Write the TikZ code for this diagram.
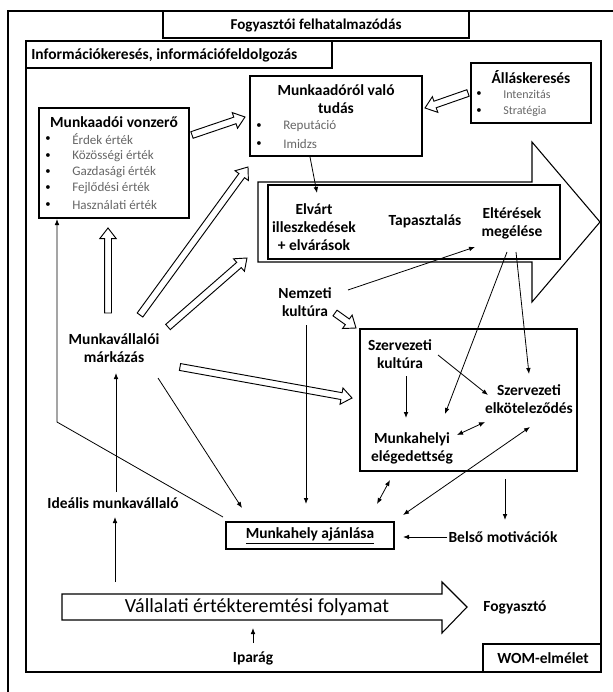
\documentclass[tikz,border=0pt]{standalone}
\usepackage{fontspec}
\setmainfont{Carlito}
\usetikzlibrary{arrows.meta,calc}
\newcommand{\harrow}[3][]{%
  \coordinate (hc) at ($(#3)!8pt!(#2)$);
  \draw[hollow,#1] ($(#2)!2.6pt!90:(#3)$) -- ($(hc)!2.6pt!90:(#3)$) -- ($(hc)!6.2pt!90:(#3)$) -- (#3) -- ($(hc)!6.2pt!-90:(#3)$) -- ($(hc)!2.6pt!-90:(#3)$) -- ($(#2)!2.6pt!-90:(#3)$) -- cycle;}
\begin{document}
\begin{tikzpicture}[x=0.75pt,y=-0.75pt,
  box/.style={draw, line width=0.8pt},
  frame/.style={draw, line width=1pt},
  lbl/.style={font=\bfseries\fontsize{11.6}{13.5}\selectfont, align=center, inner sep=0pt},
  hdr/.style={font=\bfseries\fontsize{11.3}{13}\selectfont, inner sep=0pt},
  itm/.style={font=\fontsize{9.8}{11}\selectfont, text=black!60, anchor=west, inner sep=0pt},
  itms/.style={font=\fontsize{9}{10}\selectfont, text=black!60, anchor=west, inner sep=0pt},
  bul/.style={font=\fontsize{8}{10}\selectfont, inner sep=0pt},
  arr/.style={-{Latex[length=4.5pt,width=3.5pt]}, line width=0.6pt},
  darr/.style={{Latex[length=4.5pt,width=3.5pt]}-{Latex[length=4.5pt,width=3.5pt]}, line width=0.6pt},
  hollow/.style={draw, line width=0.7pt, line join=miter},
]
\useasboundingbox (0,0) rectangle (613,692);
% outer frame (cut by page edge)
\draw[line width=2pt] (8,700) -- (8,11) -- (620,11);
% header
\draw[box] (163,11) rectangle (469,38);
\node[hdr] (fogy) at (316,25) {Fogyasztói felhatalmazódás};
% inner frame
\draw[frame] (26,41) rectangle (601,672);
\draw[box] (26,41) rectangle (332,68);
\node[lbl, anchor=west] (info) at (31,55) {Információkeresés, információfeldolgozás};

% Munkaadói vonzerő
\draw[box] (39,108) rectangle (189,218);
\node[lbl] (vonz) at (114,122) {Munkaadói vonzerő};
\foreach \t/\yy [count=\i] in {Érdek érték/139, Közösségi érték/156, Gazdasági érték/172, Fejlődési érték/188, Használati érték/205}{
  \node[bul] (vb\i) at (48,\yy) {•};
  \node[itm] (vi\i) at (72,\yy) {\t};
}
% Munkaadóról való tudás
\draw[box] (250,76) rectangle (422,156);
\node[lbl] (tudas) at (336,99) {Munkaadóról való\\tudás};
\node[bul] (tb1) at (259,126) {•};
\node[itm] (ti1) at (283,126) {Reputáció};
\node[bul] (tb2) at (259,144) {•};
\node[itm] (ti2) at (283,144) {Imidzs};
% Álláskeresés
\draw[box] (471,63) rectangle (591,123);
\node[lbl] (allas) at (531,77) {Álláskeresés};
\node[bul] (ab1) at (479,94) {•};
\node[itms] (ai1) at (503,94) {Intenzitás};
\node[bul] (ab2) at (479,111) {•};
\node[itms] (ai2) at (503,111) {Stratégia};

% big arrow
\draw[box] (258,182) -- (532,182) -- (532,142) -- (600,222) -- (532,302) -- (532,262) -- (258,262) -- cycle;
\draw[box] (268,185) rectangle (560,259);
\node[lbl] (elvart) at (314,227) {Elvárt\\illeszkedések\\+ elvárások};
\node[lbl] (tapasz) at (425,221) {Tapasztalás};
\node[lbl] (elter) at (512,223) {Eltérések\\megélése};

% Nemzeti kultúra, márkázás
\node[lbl] (nemz) at (305,302) {Nemzeti\\kultúra};
\node[lbl] (mark) at (114,348) {Munkavállalói\\márkázás};

% Szervezeti box
\draw[box] (360,329) rectangle (577,471);
\node[lbl] (szkult) at (400,354) {Szervezeti\\kultúra};
\node[lbl] (szelk) at (529,399) {Szervezeti\\elköteleződés};
\node[lbl] (mhelyi) at (412,448) {Munkahelyi\\elégedettség};

% Munkahely ajánlása
\draw[box] (226,522) rectangle (394,549);
\node[lbl] (ajanl) at (310,536) {\underline{Munkahely ajánlása}};
\node[lbl] (belso) at (503,537) {Belső motivációk};
\node[lbl] (ideal) at (113,503) {Ideális munkavállaló};

% Vállalati arrow
\draw[box] (62,594) -- (442,594) -- (442,582) -- (467,607) -- (442,633) -- (442,620) -- (62,620) -- cycle;
\node[font=\fontsize{15}{17}\selectfont, inner sep=0pt] (vall) at (257,607) {Vállalati értékteremtési folyamat};
\node[lbl] (fogyaszto) at (515,607) {Fogyasztó};
\node[lbl] (ipar) at (253,658) {Iparág};
\draw[box] (483,644) rectangle (601,672);
\node[lbl] (wom) at (543,658) {WOM-elmélet};

% coordinates for connectors
\coordinate (a1s) at (310,157); \coordinate (a1e) at (317,193);
\coordinate (a2s) at (348,290); \coordinate (a2e) at (475,247);
\coordinate (a3s) at (507,252); \coordinate (a3e) at (445,414);
\coordinate (a4s) at (516,252); \coordinate (a4e) at (529,374);
\coordinate (a5s) at (406,376); \coordinate (a5e) at (406,418);
\coordinate (a6s) at (438,355); \coordinate (a6e) at (488,395);
\coordinate (a7s) at (457,435); \coordinate (a7e) at (485,422);
\coordinate (a8s) at (306,325); \coordinate (a8e) at (306,504);
\coordinate (a9s) at (158,378); \coordinate (a9e) at (242,508);
\coordinate (a10s) at (223,517); \coordinate (a10m) at (57,422); \coordinate (a10e) at (57,219);
\coordinate (a11s) at (116,492); \coordinate (a11e) at (116,373);
\coordinate (a12s) at (115,582); \coordinate (a12e) at (115,517);
\coordinate (a13s) at (253,643); \coordinate (a13e) at (253,628);
\coordinate (a14s) at (447,537); \coordinate (a14e) at (403,537);
\coordinate (a15s) at (505,479); \coordinate (a15e) at (505,520);
\coordinate (a16s) at (377,504); \coordinate (a16e) at (390,480);
\coordinate (a17s) at (403,515); \coordinate (a17e) at (530,427);

\draw[arr] (a1s) -- (a1e);
\draw[arr] (a2s) -- (a2e);
\draw[arr] (a3s) -- (a3e);
\draw[arr] (a4s) -- (a4e);
\draw[arr] (a5s) -- (a5e);
\draw[arr] (a6s) -- (a6e);
\draw[darr] (a7s) -- (a7e);
\draw[arr] (a8s) -- (a8e);
\draw[arr] (a9s) -- (a9e);
\draw[arr] (a10s) -- (a10m) -- (a10e);
\draw[arr] (a11s) -- (a11e);
\draw[arr] (a12s) -- (a12e);
\draw[arr] (a13s) -- (a13e);
\draw[arr] (a14s) -- (a14e);
\draw[arr] (a15s) -- (a15e);
\draw[darr] (a16s) -- (a16e);
\draw[darr] (a17s) -- (a17e);

% hollow arrows
\coordinate (h1s) at (192,135); \coordinate (h1e) at (245,117);
\coordinate (h2s) at (468,93); \coordinate (h2e) at (425,108);
\coordinate (h3s) at (108,313); \coordinate (h3e) at (108,228);
\coordinate (h4s) at (140,315); \coordinate (h4e) at (248,167);
\coordinate (h5s) at (168,327); \coordinate (h5e) at (247,258);
\coordinate (h6s) at (180,367); \coordinate (h6e) at (352,398);
\coordinate (h7s) at (335,313); \coordinate (h7e) at (356,328);
\harrow{h1s}{h1e}
\harrow{h2s}{h2e}
\harrow{h3s}{h3e}
\harrow{h4s}{h4e}
\harrow{h5s}{h5e}
\harrow{h6s}{h6e}
\harrow{h7s}{h7e}
\end{tikzpicture}
\end{document}
